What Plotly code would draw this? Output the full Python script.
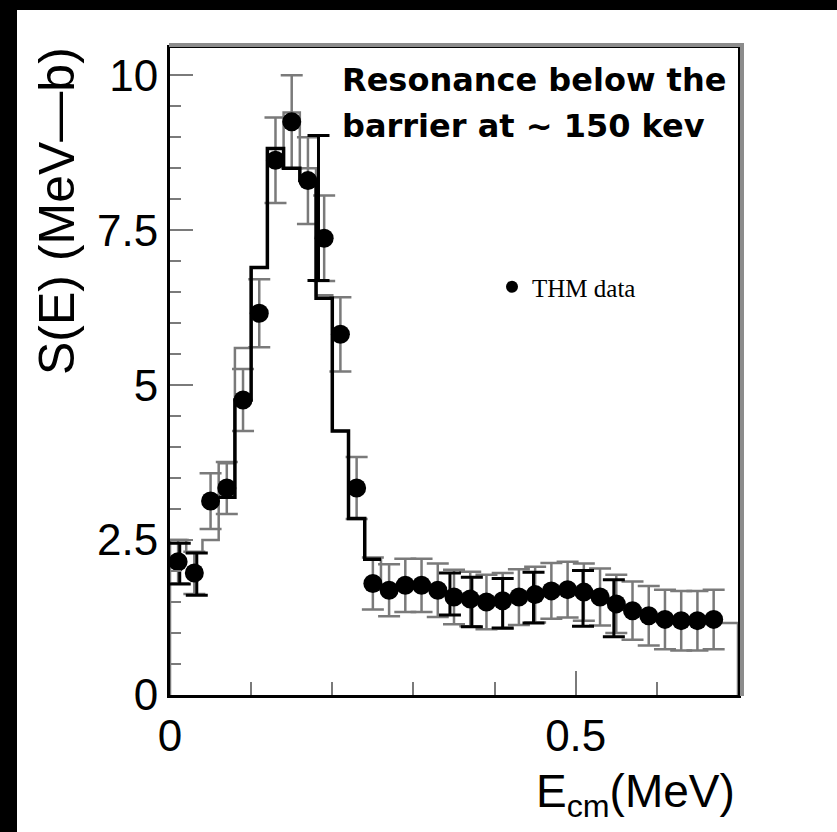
import plotly.graph_objects as go

# ---------------- data ----------------
bin_edges = [round(0.02 * i, 2) for i in range(36)]  # 0 .. 0.70

gray_hist = [2.5, 2.3, 2.5, 3.74, 5.6, 6.9, 8.7, 9.4, 8.5, 6.45,
             4.26, 2.85, 2.19, 1.75, 1.8, 1.8, 1.72, 1.62, 1.58, 1.55,
             1.55, 1.6, 1.65, 1.7, 1.72, 1.68, 1.6, 1.5, 1.4, 1.3,
             1.24, 1.22, 1.2, 1.2, 1.16]

black_edges = [0.06, 0.08, 0.10, 0.12, 0.14, 0.16, 0.18, 0.20, 0.22, 0.24, 0.26]
black_hist = [3.19, 4.76, 6.9, 8.82, 8.5, 8.3, 6.4, 4.26, 2.85, 2.19]

thm_x = [0.01, 0.03, 0.05, 0.07, 0.09, 0.11, 0.13, 0.15, 0.17, 0.19,
         0.21, 0.23, 0.25, 0.27, 0.29, 0.31, 0.33, 0.35, 0.37, 0.39,
         0.41, 0.43, 0.45, 0.47, 0.49, 0.51, 0.53, 0.55, 0.57, 0.59,
         0.61, 0.63, 0.65, 0.67]
thm_y = [2.15, 1.97, 3.13, 3.34, 4.76, 6.16, 8.63, 9.25, 8.3, 7.37,
         5.82, 3.34, 1.8, 1.69, 1.77, 1.77, 1.69, 1.58, 1.55, 1.50,
         1.52, 1.58, 1.62, 1.68, 1.70, 1.66, 1.58, 1.47, 1.36, 1.28,
         1.22, 1.20, 1.20, 1.22]
thm_err = [0.35, 0.34, 0.45, 0.42, 0.5, 0.55, 0.69, 0.75, 0.7, 0.69,
           0.6, 0.5, 0.42, 0.42, 0.43, 0.43, 0.43, 0.44, 0.44, 0.44,
           0.45, 0.45, 0.45, 0.45, 0.45, 0.46, 0.46, 0.47, 0.47, 0.48,
           0.48, 0.48, 0.48, 0.48]

blk_err_x = [0.012, 0.033, 0.183, 0.345, 0.372, 0.41, 0.448, 0.509, 0.547]
blk_err_y = [2.12, 1.95, 7.86, 1.63, 1.5, 1.48, 1.57, 1.56, 1.4]
blk_err_e = [0.33, 0.34, 1.17, 0.34, 0.4, 0.4, 0.41, 0.45, 0.46]

x_tickvals = [0, 0.5]
x_ticktext = ["0", "0.5"]
y_tickvals = [0, 2.5, 5, 7.5, 10]
y_ticktext = ["0", "2.5", "5", "7.5", "10"]


def steps(edges, vals):
    xs, ys = [edges[0]], [0]
    for i, v in enumerate(vals):
        xs += [edges[i], edges[i + 1]]
        ys += [v, v]
    xs.append(edges[-1])
    ys.append(0)
    return xs, ys


GRAY = "#7a7a7a"
fig = go.Figure()

gx, gy = steps(bin_edges, gray_hist)
fig.add_trace(go.Scatter(x=gx, y=gy, mode="lines",
                         line=dict(color=GRAY, width=2.5), showlegend=False,
                         hoverinfo="skip"))

# gray error bars of THM data
fig.add_trace(go.Scatter(x=thm_x, y=thm_y, mode="markers",
                         marker=dict(size=1, color="rgba(0,0,0,0)"),
                         error_y=dict(type="data", array=thm_err, color=GRAY,
                                      thickness=2.5, width=11),
                         showlegend=False, hoverinfo="skip"))

bx, by = steps(black_edges, black_hist)
bx, by = bx[1:-1], by[1:-1]
fig.add_trace(go.Scatter(x=bx, y=by, mode="lines",
                         line=dict(color="black", width=3.5), showlegend=False,
                         hoverinfo="skip"))

fig.add_trace(go.Scatter(x=blk_err_x, y=blk_err_y, mode="markers",
                         marker=dict(size=1, color="rgba(0,0,0,0)"),
                         error_y=dict(type="data", array=blk_err_e, color="black",
                                      thickness=3, width=11),
                         showlegend=False, hoverinfo="skip"))

fig.add_trace(go.Scatter(x=thm_x, y=thm_y, mode="markers",
                         marker=dict(size=19, color="black"),
                         showlegend=False))

# legend entry
fig.add_trace(go.Scatter(x=[None], y=[None], mode="markers",
                         marker=dict(size=12, color="black"),
                         name="THM data", showlegend=True))

W, H = 837, 832
L, R, T, B = 170, 99, 48, 137
pw, ph = W - L - R, H - T - B

def px(xp):
    return (xp - L) / pw

def py(yp):
    return 1 - (yp - T) / ph

TICKFONT = dict(family="Liberation Sans", size=44, color="black")

fig.update_layout(
    width=W, height=H,
    margin=dict(l=L, r=R, t=T, b=B),
    paper_bgcolor="white", plot_bgcolor="white",
    xaxis=dict(range=[0, 0.70], tickvals=x_tickvals, ticktext=x_ticktext,
               ticks="inside", ticklen=24, tickwidth=2, tickcolor=GRAY,
               minor=dict(dtick=0.1, tick0=0, ticks="inside", ticklen=13,
                          tickwidth=2, tickcolor=GRAY),
               showline=True, linecolor="black", linewidth=3, mirror=True,
               showgrid=False, zeroline=False, tickfont=TICKFONT),
    yaxis=dict(range=[0, 10.44], tickvals=y_tickvals, ticktext=y_ticktext,
               ticks="inside", ticklen=23, tickwidth=2, tickcolor=GRAY,
               minor=dict(dtick=0.5, tick0=0, ticks="inside", ticklen=11,
                          tickwidth=2, tickcolor=GRAY),
               showline=True, linecolor="black", linewidth=3, mirror=True,
               showgrid=False, zeroline=False, tickfont=TICKFONT),
    legend=dict(x=px(492), y=py(264), xanchor="left", yanchor="top",
                bgcolor="rgba(0,0,0,0)",
                font=dict(family="Liberation Serif", size=25, color="black")),
    showlegend=True,
)

# black strips at left and top edges, gray shadow of the frame
fig.add_shape(type="rect", xref="paper", yref="paper",
              x0=px(0), x1=px(17), y0=py(H), y1=py(0),
              fillcolor="black", line=dict(width=0), layer="below")
fig.add_shape(type="rect", xref="paper", yref="paper",
              x0=px(0), x1=px(W), y0=py(10), y1=py(0),
              fillcolor="black", line=dict(width=0), layer="below")
fig.add_shape(type="rect", xref="paper", yref="paper",
              x0=px(L - 1), x1=px(L + pw + 2), y0=py(T - 1), y1=py(T - 5),
              fillcolor="#8c8c8c", line=dict(width=0))
fig.add_shape(type="rect", xref="paper", yref="paper",
              x0=px(L + pw + 2), x1=px(L + pw + 6), y0=py(T + ph + 1), y1=py(T - 5),
              fillcolor="#8c8c8c", line=dict(width=0))

NOTE = dict(family="DejaVu Sans", size=32, color="black")
fig.add_annotation(xref="paper", yref="paper", x=px(340), y=py(80),
                   xanchor="left", yanchor="middle", showarrow=False,
                   text="<b>Resonance below the</b>", font=NOTE)
fig.add_annotation(xref="paper", yref="paper", x=px(340), y=py(126),
                   xanchor="left", yanchor="middle", showarrow=False,
                   text="<b>barrier at ~ 150 kev</b>", font=NOTE)

fig.add_annotation(xref="paper", yref="paper", x=px(57), y=py(45),
                   xanchor="center", yanchor="top", textangle=-90, showarrow=False,
                   text="S(E) (MeV\u2014b)",
                   font=dict(family="Liberation Sans", size=50, color="black"))

fig.add_annotation(xref="paper", yref="paper", x=px(737), y=py(826),
                   xanchor="right", yanchor="bottom", showarrow=False,
                   text="E<sub>cm</sub>(MeV)",
                   font=dict(family="Liberation Sans", size=46, color="black"))

fig.write_html("out.html")
